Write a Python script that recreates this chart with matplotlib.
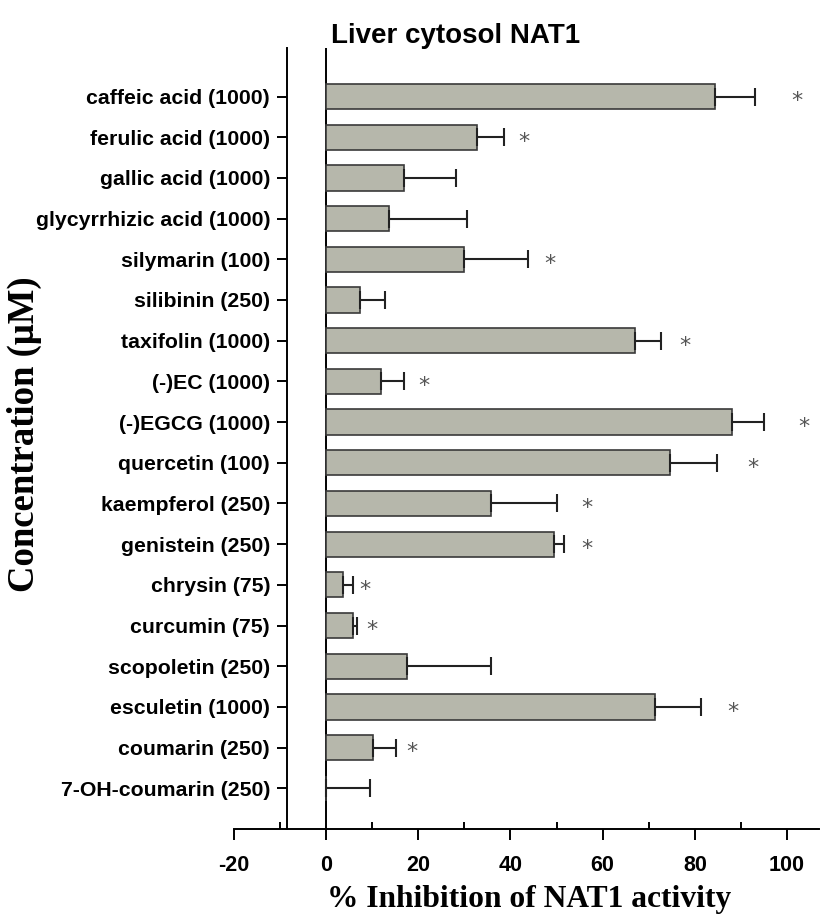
import numpy as np
import matplotlib
matplotlib.use('Agg')
import matplotlib.pyplot as plt
from matplotlib.ticker import MultipleLocator

compounds = ['caffeic acid (1000)', 'ferulic acid (1000)', 'gallic acid (1000)',
             'glycyrrhizic acid (1000)', 'silymarin (100)', 'silibinin (250)',
             'taxifolin (1000)', '(-)EC (1000)', '(-)EGCG (1000)', 'quercetin (100)',
             'kaempferol (250)', 'genistein (250)', 'chrysin (75)', 'curcumin (75)',
             'scopoletin (250)', 'esculetin (1000)', 'coumarin (250)', '7-OH-coumarin (250)']
inhibition = [84.4, 32.7, 16.9, 13.7, 29.9, 7.4, 67.1, 11.9, 88.1, 74.7,
              35.7, 49.4, 3.7, 5.8, 17.5, 71.4, 10.2, 0.0]
sd = [8.6, 5.8, 11.2, 16.8, 14.0, 5.4, 5.6, 5.0, 6.9, 10.1,
      14.5, 2.3, 2.1, 0.9, 18.2, 10.0, 5.0, 9.5]
xticks = [-20, 0, 20, 40, 60, 80, 100]
xticklabels = ['-20', '0', '20', '40', '60', '80', '100']
# significance marks: (row, x position)
sig_rows = [0, 1, 4, 6, 7, 8, 9, 10, 11, 12, 13, 15, 16]
sig_x = [102.2, 43.0, 48.5, 77.9, 21.3, 103.7, 92.6, 56.5, 56.5, 8.4, 10.0, 88.3, 18.6]

fig = plt.figure(figsize=(8.26, 9.17), dpi=100)
ax = fig.add_axes([0.283, 0.096, 0.709, 0.852])

y = np.arange(len(compounds))
ax.barh(y, inhibition, height=0.62, color='#b6b7ab', edgecolor='#3a3a3a', linewidth=1.2, zorder=2)
ax.errorbar(inhibition, y, xerr=[np.zeros(len(sd)), sd], fmt='none', ecolor='#222222',
            elinewidth=1.5, capsize=6.5, capthick=1.5, zorder=3)
for r, sx in zip(sig_rows, sig_x):
    ax.text(sx, r + 0.12, '*', fontsize=16, color='#555555', ha='center', va='center')

ax.axvline(0, color='black', lw=1.4, zorder=1)

ax.set_xlim(-20, 107)
ax.set_ylim(len(compounds) - 1 + 1.0, -1.2)

ax.spines['top'].set_visible(False)
ax.spines['right'].set_visible(False)
ax.spines['left'].set_position(('data', -8.5))
ax.spines['left'].set_linewidth(1.4)
ax.spines['bottom'].set_linewidth(1.4)

ax.set_xticks(xticks)
ax.set_xticklabels(xticklabels)
ax.xaxis.set_minor_locator(MultipleLocator(10))
ax.tick_params(axis='x', which='major', direction='out', length=8, width=1.4, pad=11)
ax.tick_params(axis='x', which='minor', direction='in', length=5, width=1.4)
ax.set_yticks(y)
ax.set_yticklabels(compounds)
ax.tick_params(axis='y', direction='out', length=7, width=1.4, pad=5)

for lab in ax.get_xticklabels():
    lab.set_fontfamily('Liberation Sans')
    lab.set_fontweight('bold')
    lab.set_fontsize(15.5)
for lab in ax.get_yticklabels():
    lab.set_fontfamily('Liberation Sans')
    lab.set_fontweight('bold')
    lab.set_fontsize(15.3)

ax.set_xlabel('% Inhibition of NAT1 activity', family='Liberation Serif', fontweight='bold',
              fontsize=22.7)
ax.xaxis.set_label_coords(0.505, -0.072)
fig.text(0.03, 0.526, 'Concentration (\u03bcM)', family='Liberation Serif', fontweight='bold',
         fontsize=26.5, rotation=90, ha='center', va='center')
fig.text(0.551, 0.961, 'Liver cytosol NAT1', family='Liberation Sans', fontweight='bold',
         fontsize=20, ha='center', va='center')

fig.savefig('out.png', dpi=100, facecolor='white')
